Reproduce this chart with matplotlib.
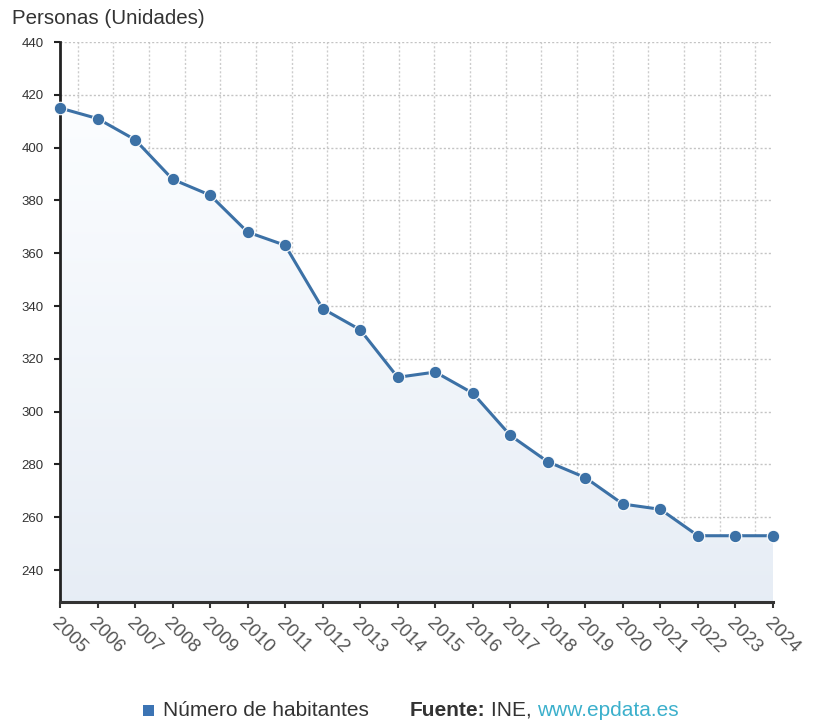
import numpy as np
import matplotlib.pyplot as plt
from matplotlib.patches import Polygon, Rectangle

plt.rcParams['font.family'] = ['Liberation Sans', 'DejaVu Sans']

# Serie anual de habitantes
anios = list(range(2005, 2025))
habitantes = [415, 411, 403, 388, 382, 368, 363, 339, 331, 313,
              315, 307, 291, 281, 275, 265, 263, 253, 253, 253]
yticks = [240, 260, 280, 300, 320, 340, 360, 380, 400, 420, 440]

color_linea = '#3c71a6'
ymin, ymax = 227.9, 440

fig = plt.figure(figsize=(8.14, 7.27), dpi=100)
ax = fig.add_axes([60 / 814, 1 - 602 / 727, 713 / 814, 560 / 727])
ax.set_xlim(anios[0], anios[-1])
ax.set_ylim(ymin, ymax)

# Relleno degradado bajo la línea
grad = np.linspace(0, 1, 256).reshape(-1, 1)
c_top = np.array([0.985, 0.992, 1.0])
c_bot = np.array([0.905, 0.93, 0.962])
img = c_top + (c_bot - c_top) * grad[:, :, None] * np.ones((1, 1, 3))
im = ax.imshow(img, extent=[anios[0], anios[-1], ymin, max(habitantes)],
               aspect='auto', origin='upper', zorder=1)
verts = [(anios[0], ymin)] + list(zip(anios, habitantes)) + [(anios[-1], ymin)]
poly = Polygon(verts, closed=True, facecolor='none', edgecolor='none')
ax.add_patch(poly)
im.set_clip_path(poly)

# Rejilla punteada
ax.set_yticks(yticks)
ax.set_xticks(anios)
paso = (anios[-1] - anios[0]) / 20
ax.set_xticks([anios[0] + paso / 2 + paso * k for k in range(20)], minor=True)
ax.grid(axis='y', which='major', color='#c4c4c4', linestyle=(0, (1.5, 1.5)), linewidth=1, zorder=0)
ax.grid(axis='x', which='minor', color='#cccccc', linestyle=(0, (1.5, 1.5)), linewidth=1, zorder=0)
ax.set_axisbelow(True)

ax.plot(anios, habitantes, color=color_linea, linewidth=2.2, marker='o',
        markersize=9, markerfacecolor=color_linea, markeredgecolor='white',
        markeredgewidth=0.8, zorder=4, clip_on=False)

for s in ['top', 'right']:
    ax.spines[s].set_visible(False)
ax.spines['left'].set_linewidth(2)
ax.spines['left'].set_color('#222222')
ax.spines['bottom'].set_linewidth(2.2)
ax.spines['bottom'].set_color('#333333')

ax.tick_params(axis='y', which='major', length=4, width=1.5, color='#222222',
               labelsize=9.5, labelcolor='#333333', pad=8)
ax.tick_params(axis='x', which='major', length=4, width=1.5, color='#333333',
               labelsize=13.5, labelcolor='#555555', pad=5)
ax.tick_params(axis='x', which='minor', length=0)
for lab in ax.get_xticklabels():
    lab.set_rotation(-45)
    lab.set_ha('left')
    lab.set_va('top')
    lab.set_rotation_mode('anchor')

fig.text(12 / 814, 1 - 19 / 727, 'Personas (Unidades)', fontsize=14.8,
         color='#333333', va='center', ha='left')

# Leyenda y fuente
fs = 15
fig.patches.append(Rectangle((143 / 814, 1 - 716 / 727), 11 / 814, 11 / 727,
                             transform=fig.transFigure, facecolor='#3c74b4',
                             edgecolor='none'))
fig.text(163 / 814, 1 - 710 / 727, 'Número de habitantes', fontsize=fs,
         color='#333333', va='center', ha='left')
t1 = fig.text(410 / 814, 1 - 710 / 727, 'Fuente:', fontsize=fs,
              color='#333333', va='center', ha='left', fontweight='bold')
fig.canvas.draw()
bb = t1.get_window_extent()
t2 = fig.text(bb.x1 / 814 + 5 / 814, 1 - 710 / 727, 'INE, ', fontsize=fs,
              color='#333333', va='center', ha='left')
bb2 = t2.get_window_extent()
fig.text(bb2.x1 / 814, 1 - 710 / 727, 'www.epdata.es', fontsize=fs,
         color='#3cb0cc', va='center', ha='left')

fig.savefig('out.png', dpi=100, facecolor='white')
